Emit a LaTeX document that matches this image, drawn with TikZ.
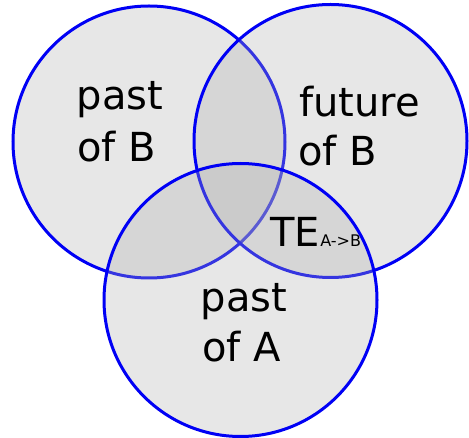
\documentclass[tikz,border=0pt]{standalone}
\usepackage{fontspec}
\setmainfont{DejaVu Sans}
\definecolor{venngray}{RGB}{178,178,178}
\definecolor{vennblue}{RGB}{0,0,245}
\begin{document}
\begin{tikzpicture}[x=1pt,y=-1pt,
  venn/.style={fill=venngray,fill opacity=0.3,draw=vennblue,draw opacity=1,line width=3pt},
  lbl/.style={anchor=base west,inner sep=0pt,font=\fontsize{40}{48}\selectfont},
  sub/.style={anchor=base west,inner sep=0pt,font=\fontsize{16}{19}\selectfont}]
\useasboundingbox (0,0) rectangle (469,438);
\fill[white] (0,0) rectangle (469,438);
\coordinate (cL) at (149,142);
\coordinate (cR) at (330.5,141);
\coordinate (cB) at (240.5,300);
\path[venn] (cL) circle[radius=136];
\path[venn] (cR) circle[radius=136.5];
\path[venn] (cB) circle[radius=136.5];
\node[lbl] (pb1) at (76.5,110) {past};
\node[lbl] (pb2) at (77,162) {of B};
\node[lbl] (fb1) at (299,117) {future};
\node[lbl] (fb2) at (298,166) {of B};
\node[lbl] (pa1) at (200.5,312) {past};
\node[lbl] (pa2) at (202,362) {of A};
\node[lbl] (te) at (270,247) {TE};
\node[sub] (tes) at (te.base east) {A->B};
\end{tikzpicture}
\end{document}
